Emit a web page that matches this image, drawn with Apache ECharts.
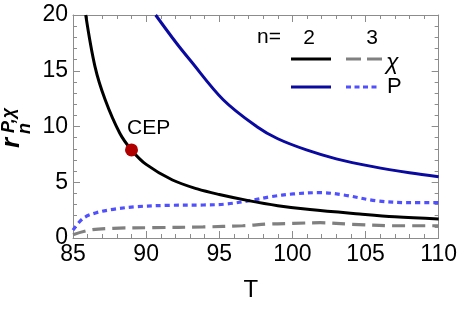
<!DOCTYPE html>
<html><head><meta charset="utf-8">
<script src="https://cdn.jsdelivr.net/npm/echarts@6/dist/echarts.min.js"></script>
<style>html,body{margin:0;padding:0;background:#fff}#c{width:460px;height:309px}</style>
</head><body><div id="c"></div>
<script>
// ---- data ----
const xTicks = [85, 90, 95, 100, 105, 110];
const yTicks = [0, 5, 10, 15, 20];
const chi2T = [85.87, 86.5, 87.2, 88.2, 89.0, 90.0, 91.8, 93.5, 95.0, 97.0, 99.0, 101.2, 104.6, 107.0, 110.0];
const chi2V = [20, 15.4, 12.4, 9.4, 7.9, 6.6, 5.2, 4.4, 3.9, 3.35, 2.9, 2.55, 2.15, 1.9, 1.7];
const p2T = [90.65, 92.0, 93.0, 95.27, 97.55, 99.0, 100.96, 103.0, 105.5, 108.0, 110.0];
const p2V = [20, 17.6, 15.96, 12.4, 10.0, 8.9, 7.9, 7.1, 6.4, 5.85, 5.5];
const p3T = [85.0, 85.7, 86.6, 87.75, 89.35, 91.6, 93.9, 95.5, 97.3, 98.5, 100.05, 101.9, 103.5, 105.7, 108.0, 110.0];
const p3V = [0.7, 1.77, 2.27, 2.57, 2.81, 2.93, 2.96, 3.05, 3.4, 3.7, 3.95, 4.07, 3.86, 3.35, 3.17, 3.17];
const chi3T = [85.0, 86.2, 87.75, 90.5, 93.9, 96.6, 98.45, 100.05, 101.9, 104.1, 106.9, 110.0];
const chi3V = [0.3, 0.72, 0.87, 0.93, 0.99, 1.1, 1.26, 1.31, 1.37, 1.23, 1.1, 1.1];
const cepPoint = [89.0, 7.9];
const cepLabel = 'CEP';
const legendHead = ['n=', '2', '3'];
const legendRows = ['χ', 'P'];

const zip = (a, b) => a.map((x, i) => [x, b[i]]);
const FONT = 'Liberation Sans, Arial, sans-serif';
const FRAME = '#8c8c8c';

const chart = echarts.init(document.getElementById('c'), null, {renderer: 'canvas'});

function xAx(pos, show) {
  return {
    type: 'value', position: pos, min: xTicks[0], max: xTicks[xTicks.length - 1], interval: 5,
    axisLine: {show: true, onZero: false, lineStyle: {color: FRAME, width: 1}},
    axisTick: {show: true, inside: true, length: 7, lineStyle: {color: FRAME}},
    minorTick: {show: true, splitNumber: 5, length: 4, lineStyle: {color: FRAME}},
    axisLabel: {show: show, color: '#000', fontSize: 23, fontFamily: FONT, margin: 5},
    splitLine: {show: false},
    name: show ? 'T' : '', nameLocation: 'middle', nameGap: 40,
    nameTextStyle: {color: '#000', fontSize: 24, fontFamily: FONT, padding: [0, 10, 0, 0]}
  };
}
function yAx(pos, show) {
  return {
    type: 'value', position: pos, min: yTicks[0], max: yTicks[yTicks.length - 1], interval: 5,
    axisLine: {show: true, onZero: false, lineStyle: {color: FRAME, width: 1}},
    axisTick: {show: true, inside: true, length: 7, lineStyle: {color: FRAME}},
    minorTick: {show: true, splitNumber: 5, length: 4, lineStyle: {color: FRAME}},
    axisLabel: {show: show, color: '#000', fontSize: 23, fontFamily: FONT, margin: 5},
    splitLine: {show: false}
  };
}

const lx1 = 291, lx2 = 331, lx3 = 346, lx4 = 382, ly1 = 59, ly2 = 87;
const T = (o) => Object.assign({fontFamily: FONT, fill: '#000'}, o);

chart.setOption({
  animation: false,
  grid: {left: 73, right: 21, top: 15, bottom: 71, containLabel: false},
  xAxis: [xAx('bottom', true), xAx('top', false)],
  yAxis: [yAx('left', true), yAx('right', false)],
  series: [
    {type: 'line', data: zip(chi3T, chi3V), smooth: 0.35, showSymbol: false, clip: true,
     lineStyle: {color: '#808080', width: 3.2, type: [13, 7]}},
    {type: 'line', data: zip(p3T, p3V), smooth: 0.35, showSymbol: false, clip: true,
     lineStyle: {color: '#5050ff', width: 3.2, type: [5, 4]}},
    {type: 'line', data: zip(chi2T, chi2V), smooth: 0.35, showSymbol: false, clip: true,
     lineStyle: {color: '#000000', width: 3}},
    {type: 'line', data: zip(p2T, p2V), smooth: 0.35, showSymbol: false, clip: true,
     lineStyle: {color: '#0a0aa0', width: 3}},
    {type: 'scatter', data: [cepPoint], symbolSize: 13, z: 5,
     itemStyle: {color: '#b00000', opacity: 1},
     label: {show: true, formatter: cepLabel, position: 'right', offset: [-16, -22],
       color: '#000', opacity: 1, fontSize: 21, fontFamily: FONT}}
  ],
  graphic: [
    {type: 'text', left: 257, top: 27, style: T({text: legendHead[0], fontSize: 21})},
    {type: 'text', x: 309, y: 38, style: T({text: legendHead[1], fontSize: 21, align: 'center', verticalAlign: 'middle'})},
    {type: 'text', x: 372, y: 38, style: T({text: legendHead[2], fontSize: 21, align: 'center', verticalAlign: 'middle'})},
    {type: 'line', shape: {x1: lx1, y1: ly1, x2: lx2, y2: ly1}, style: {stroke: '#000', lineWidth: 3}},
    {type: 'line', shape: {x1: lx3, y1: ly1, x2: lx4, y2: ly1}, style: {stroke: '#808080', lineWidth: 3.2, lineDash: [15, 6]}},
    {type: 'line', shape: {x1: lx1, y1: ly2, x2: lx2, y2: ly2}, style: {stroke: '#0a0aa0', lineWidth: 3}},
    {type: 'line', shape: {x1: lx3, y1: ly2, x2: lx4 - 3, y2: ly2}, style: {stroke: '#5050ff', lineWidth: 3.2, lineDash: [5, 3.5]}},
    {type: 'text', x: 386, y: 63, style: T({text: legendRows[0], fontSize: 23, fontStyle: 'italic', verticalAlign: 'middle'})},
    {type: 'text', x: 387, y: 87, style: T({text: legendRows[1], fontSize: 22, verticalAlign: 'middle'})},
    // y-axis title r_n^{P,χ}, rotated to read bottom-to-top
    {type: 'group', x: 20, y: 148, rotation: Math.PI / 2, children: [
      {type: 'text', x: 0, y: 5, style: T({text: 'r', fontSize: 26, fontWeight: 'bold', fontStyle: 'italic', verticalAlign: 'bottom'})},
      {type: 'text', x: 14, y: 14, style: T({text: 'n', fontSize: 18, fontWeight: 'bold', fontStyle: 'italic', verticalAlign: 'bottom'})},
      {type: 'text', x: 15, y: -2, style: T({text: 'P,χ', fontSize: 18, fontWeight: 'bold', fontStyle: 'italic', verticalAlign: 'bottom'})}
    ]}
  ]
});
</script></body></html>
